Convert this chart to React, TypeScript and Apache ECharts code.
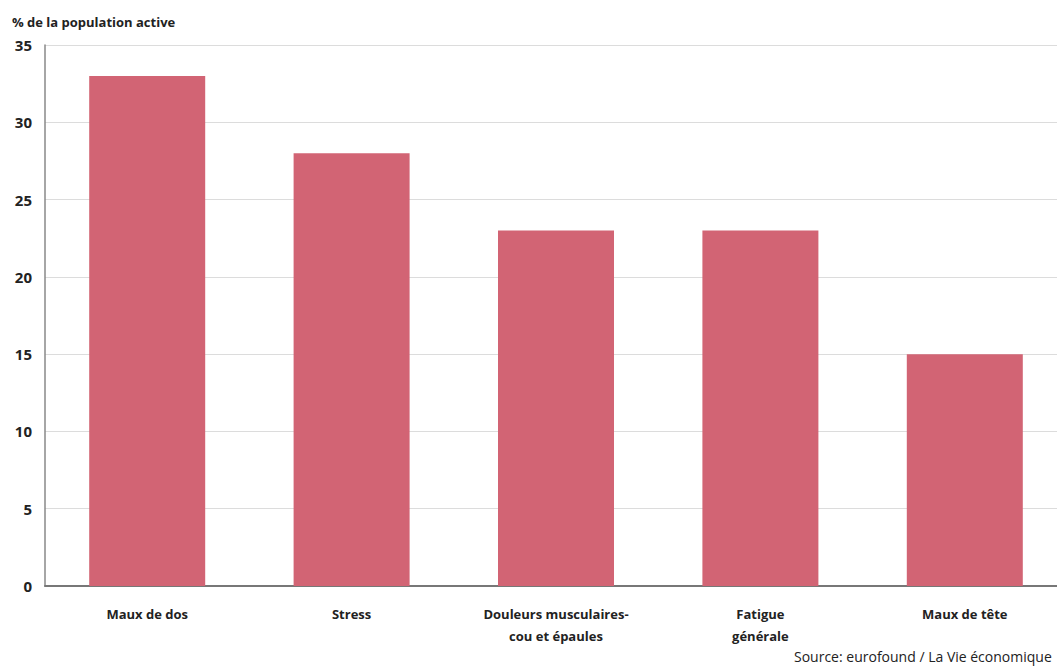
import React, { useEffect, useRef } from "react";
import * as echarts from "echarts";

const categories = [
  "Maux de dos",
  "Stress",
  "Douleurs musculaires-\ncou et épaules",
  "Fatigue\ngénérale",
  "Maux de tête",
];
const values = [33, 28, 23, 23, 15];
const yTicks = [0, 5, 10, 15, 20, 25, 30, 35];
const yTitle = "% de la population active";
const sourceText = "Source: eurofound / La Vie économique";

export default function App() {
  const ref = useRef<HTMLDivElement>(null);
  useEffect(() => {
    document.body.style.margin = "0";
    const chart = echarts.init(ref.current!, null, { renderer: "svg" });
    const font = "'Open Sans', 'DejaVu Sans', sans-serif";
    chart.setOption({
      animation: false,
      backgroundColor: "#ffffff",
      grid: { left: 45, top: 45, width: 1022, height: 541, containLabel: false },
      graphic: [
        {
          type: "text",
          left: 12,
          top: 15,
          style: { text: yTitle, font: `bold 13px ${font}`, fill: "#222" },
        },
        {
          type: "text",
          left: 794,
          top: 649,
          style: { text: sourceText, font: `14px ${font}`, fill: "#222" },
        },
      ],
      xAxis: {
        type: "category",
        data: categories,
        boundaryGap: true,
        axisLine: { show: true, lineStyle: { color: "#777", width: 2 } },
        axisTick: { show: false },
        axisLabel: {
          margin: 17,
          color: "#222",
          fontFamily: font,
          fontWeight: "bold",
          fontSize: 13,
          lineHeight: 22,
          interval: 0,
        },
      },
      yAxis: {
        type: "value",
        min: yTicks[0],
        max: yTicks[yTicks.length - 1],
        interval: 5,
        axisLine: { show: true, lineStyle: { color: "#888", width: 1.5 } },
        axisTick: { show: false },
        splitLine: { show: true, lineStyle: { color: "#dcdcdc", width: 1.2 } },
        axisLabel: {
          margin: 13,
          color: "#222",
          fontFamily: font,
          fontWeight: "bold",
          fontSize: 15,
        },
      },
      series: [
        {
          type: "bar",
          data: values,
          barWidth: 116,
          itemStyle: { color: "#d26474" },
        },
      ],
    });
    return () => chart.dispose();
  }, []);
  return (
    <div
      style={{
        position: "fixed",
        left: 0,
        top: 0,
        width: 1057,
        height: 670,
        overflow: "hidden",
        background: "#fff",
      }}
    >
      <div ref={ref} style={{ width: 1080, height: 670 }} />
    </div>
  );
}
